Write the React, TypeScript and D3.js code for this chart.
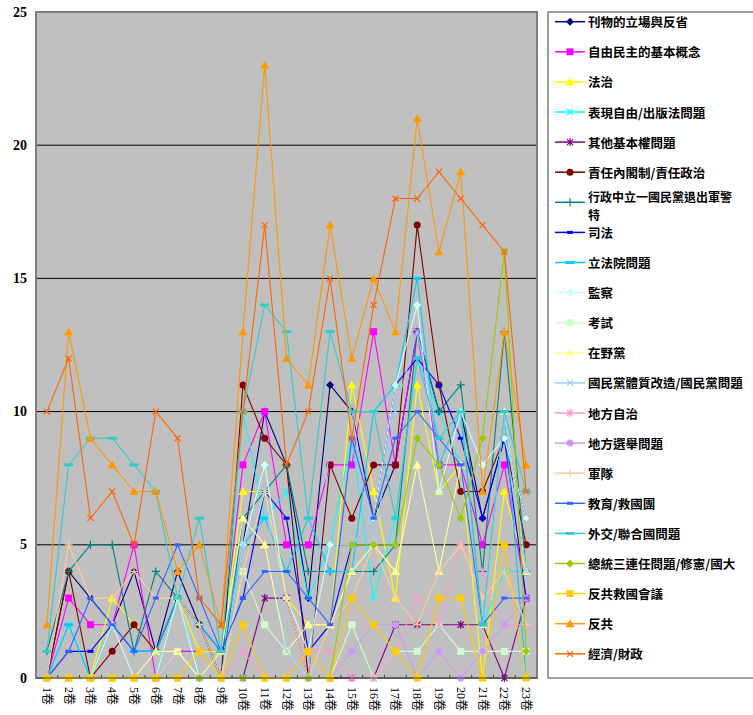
import * as d3 from 'd3'

const categories = [
  '1卷', '2卷', '3卷', '4卷', '5卷', '6卷', '7卷', '8卷', '9卷', '10卷', '11卷', '12卷',
  '13卷', '14卷', '15卷', '16卷', '17卷', '18卷', '19卷', '20卷', '21卷', '22卷', '23卷',
]
const yTicks = [0, 5, 10, 15, 20, 25]

// one array per topic, one value per volume
const kanwu = [0, 4, 3, 2, 4, 1, 4, 2, 0, 5, 10, 8, 3, 11, 10, 6, 8, 13, 10, 10, 6, 9, 6]
const ziyouMinzhu = [0, 3, 2, 2, 5, 0, 1, 1, 1, 8, 10, 5, 5, 8, 8, 13, 8, 13, 8, 8, 5, 8, 3]
const fazhi = [0, 0, 0, 3, 2, 1, 3, 1, 1, 7, 7, 3, 2, 2, 11, 7, 3, 11, 7, 8, 0, 7, 4]
const biaoxian = [0, 2, 0, 0, 0, 0, 3, 0, 0, 10, 6, 7, 3, 5, 9, 3, 6, 12, 10, 8, 2, 4, 4]
const qitaQuan = [0, 0, 0, 0, 0, 0, 0, 0, 0, 0, 3, 3, 0, 0, 0, 0, 2, 2, 2, 2, 2, 0, 3]
const zerenNeige = [0, 4, 0, 1, 2, 1, 3, 2, 0, 11, 9, 8, 0, 8, 6, 8, 8, 17, 11, 7, 7, 9, 5]
const xingzheng = [1, 4, 5, 5, 1, 4, 3, 2, 0, 6, 7, 8, 4, 4, 4, 4, 5, 13, 10, 11, 4, 13, 4]
const sifa = [0, 1, 1, 2, 1, 1, 3, 2, 1, 3, 7, 6, 1, 2, 5, 6, 11, 12, 11, 9, 6, 9, 3]
const lifayuan = [0, 2, 0, 2, 1, 1, 3, 2, 1, 5, 6, 4, 6, 4, 4, 10, 11, 15, 8, 10, 2, 10, 0]
const jiancha = [0, 0, 0, 2, 0, 0, 3, 0, 0, 5, 8, 3, 1, 5, 5, 6, 11, 14, 7, 10, 8, 9, 6]
const kaoshi = [0, 0, 0, 0, 0, 0, 1, 0, 0, 4, 2, 1, 0, 0, 2, 0, 1, 1, 2, 1, 1, 1, 1]
const zaiyedang = [0, 0, 0, 0, 0, 1, 1, 0, 1, 6, 5, 1, 2, 2, 4, 5, 4, 8, 4, 8, 2, 10, 4]
const guomindang = [0, 0, 0, 0, 0, 0, 0, 0, 0, 5, 7, 1, 0, 9, 10, 5, 10, 13, 9, 8, 2, 10, 4]
const difangZizhi = [0, 0, 0, 0, 0, 0, 0, 0, 0, 1, 0, 0, 1, 1, 0, 0, 1, 3, 2, 5, 4, 2, 2]
const difangXuanju = [0, 0, 0, 0, 0, 0, 0, 0, 0, 0, 0, 0, 0, 0, 1, 2, 2, 0, 1, 0, 1, 2, 3]
const jundui = [0, 5, 3, 3, 4, 3, 3, 2, 0, 4, 7, 3, 0, 2, 3, 5, 3, 2, 4, 5, 3, 4, 2]
const jiaoyu = [0, 1, 3, 2, 1, 3, 5, 3, 1, 3, 4, 4, 3, 2, 9, 6, 9, 10, 9, 8, 2, 3, 3]
const waijiao = [1, 8, 9, 9, 8, 7, 3, 6, 1, 10, 14, 13, 6, 13, 10, 10, 6, 12, 9, 10, 2, 10, 7]
const zongtong = [0, 0, 0, 0, 0, 0, 0, 0, 0, 0, 0, 0, 0, 0, 5, 5, 5, 9, 8, 6, 9, 16, 1]
const fangongHuiyi = [0, 0, 0, 0, 0, 0, 0, 1, 0, 2, 0, 0, 1, 0, 3, 2, 1, 0, 3, 3, 0, 5, 0]
const fangong = [2, 13, 9, 8, 7, 7, 4, 5, 2, 13, 23, 12, 11, 17, 12, 15, 13, 21, 16, 19, 7, 13, 8]
const jingji = [10, 12, 6, 7, 5, 10, 9, 3, 2, 10, 17, 8, 10, 15, 9, 14, 18, 18, 19, 18, 17, 16, 7]

type Kind = 'diamond' | 'square' | 'triangle' | 'x' | 'star' | 'circle' | 'plus' | 'dash' | 'longdash'

const series: { name: string; values: number[]; color: string; kind: Kind }[] = [
  { name: '刊物的立場與反省', values: kanwu, color: '#000080', kind: 'diamond' },
  { name: '自由民主的基本概念', values: ziyouMinzhu, color: '#FF00FF', kind: 'square' },
  { name: '法治', values: fazhi, color: '#FFFF00', kind: 'triangle' },
  { name: '表現自由/出版法問題', values: biaoxian, color: '#00FFFF', kind: 'x' },
  { name: '其他基本權問題', values: qitaQuan, color: '#800080', kind: 'star' },
  { name: '責任內閣制/責任政治', values: zerenNeige, color: '#800000', kind: 'circle' },
  { name: '行政中立一國民黨退出軍警特', values: xingzheng, color: '#008080', kind: 'plus' },
  { name: '司法', values: sifa, color: '#0000FF', kind: 'dash' },
  { name: '立法院問題', values: lifayuan, color: '#00CCFF', kind: 'longdash' },
  { name: '監察', values: jiancha, color: '#CCFFFF', kind: 'diamond' },
  { name: '考試', values: kaoshi, color: '#CCFFCC', kind: 'square' },
  { name: '在野黨', values: zaiyedang, color: '#FFFF99', kind: 'triangle' },
  { name: '國民黨體質改造/國民黨問題', values: guomindang, color: '#99CCFF', kind: 'x' },
  { name: '地方自治', values: difangZizhi, color: '#FF99CC', kind: 'star' },
  { name: '地方選舉問題', values: difangXuanju, color: '#CC99FF', kind: 'circle' },
  { name: '軍隊', values: jundui, color: '#FFCC99', kind: 'plus' },
  { name: '教育/救國團', values: jiaoyu, color: '#3366FF', kind: 'dash' },
  { name: '外交/聯合國問題', values: waijiao, color: '#33CCCC', kind: 'longdash' },
  { name: '總統三連任問題/修憲/國大', values: zongtong, color: '#99CC00', kind: 'diamond' },
  { name: '反共救國會議', values: fangongHuiyi, color: '#FFCC00', kind: 'square' },
  { name: '反共', values: fangong, color: '#FF9900', kind: 'triangle' },
  { name: '經濟/財政', values: jingji, color: '#FF6600', kind: 'x' },
]

const W = 753
const H = 715
const plot = { left: 36, right: 537, top: 12, bottom: 678 }
const legend = { left: 548, top: 12, bottom: 678, firstY: 21.7, step: 30.1 }

const x = d3.scaleBand<string>().domain(categories).range([plot.left, plot.right])
const y = d3.scaleLinear().domain([0, 25]).range([plot.bottom, plot.top])
const cx = (c: string) => (x(c) ?? 0) + x.bandwidth() / 2

const line = d3.line<number>()
  .x((_, i) => cx(categories[i]))
  .y(d => y(d))

function Marker({ kind, color, px, py }: { kind: Kind; color: string; px: number; py: number }) {
  switch (kind) {
    case 'diamond':
      return <path d={`M${px},${py - 4}L${px + 4},${py}L${px},${py + 4}L${px - 4},${py}Z`} fill={color} />
    case 'square':
      return <rect x={px - 3.5} y={py - 3.5} width={7} height={7} fill={color} />
    case 'triangle':
      return <path d={`M${px},${py - 4.5}L${px + 4.5},${py + 3.5}L${px - 4.5},${py + 3.5}Z`} fill={color} />
    case 'x':
      return <path d={`M${px - 3},${py - 3}L${px + 3},${py + 3}M${px - 3},${py + 3}L${px + 3},${py - 3}`} stroke={color} strokeWidth={1.2} />
    case 'star':
      return <path d={`M${px - 3},${py - 3}L${px + 3},${py + 3}M${px - 3},${py + 3}L${px + 3},${py - 3}M${px},${py - 4}L${px},${py + 4}`} stroke={color} strokeWidth={1.2} />
    case 'circle':
      return <circle cx={px} cy={py} r={3.5} fill={color} />
    case 'plus':
      return <path d={`M${px - 4},${py}L${px + 4},${py}M${px},${py - 4}L${px},${py + 4}`} stroke={color} strokeWidth={1.2} />
    case 'dash':
      return <rect x={px - 3} y={py - 1.5} width={6} height={3} fill={color} />
    case 'longdash':
      return <rect x={px - 4.5} y={py - 1.5} width={9} height={3} fill={color} />
  }
}

export default function App() {
  const serif = '"Liberation Serif", "Times New Roman", serif'
  const cjk = '"Noto Sans CJK TC", "Noto Sans CJK SC", sans-serif'
  const boundaries = categories.map(c => x(c) ?? 0).slice(1)

  return (
    <svg width={W} height={H} style={{ position: 'absolute', left: 0, top: 0, background: '#fff' }}>
      <rect x={plot.left} y={plot.top} width={plot.right - plot.left} height={plot.bottom - plot.top} fill="#C0C0C0" />
      {yTicks.slice(1, -1).map(t => (
        <line key={t} x1={plot.left} x2={plot.right} y1={y(t)} y2={y(t)} stroke="#000" strokeWidth={1} />
      ))}
      <rect x={plot.left} y={plot.top} width={plot.right - plot.left} height={plot.bottom - plot.top}
        fill="none" stroke="#808080" strokeWidth={2} />

      {series.map(s => (
        <g key={s.name}>
          <path d={line(s.values) ?? ''} fill="none" stroke={s.color} strokeWidth={1.1} />
          {s.values.map((v, i) => (
            <Marker key={i} kind={s.kind} color={s.color} px={cx(categories[i])} py={y(v)} />
          ))}
        </g>
      ))}

      <line x1={plot.left} x2={plot.right} y1={plot.bottom} y2={plot.bottom} stroke="#404040" strokeWidth={1} />
      {boundaries.map((b, i) => (
        <line key={i} x1={b} x2={b} y1={plot.bottom} y2={plot.bottom - 3} stroke="#404040" />
      ))}

      {yTicks.map(t => (
        <text key={t} x={27} y={y(t)} textAnchor="end" dominantBaseline="central"
          fontFamily={serif} fontWeight="bold" fontSize={14}>{t}</text>
      ))}
      {categories.map(c => (
        <text key={c} transform={`translate(${cx(c)},${plot.bottom + 9}) rotate(90)`}
          textAnchor="start" dominantBaseline="central" fontFamily={`"Liberation Serif", ${cjk}`} fontSize={12}>
          {c}
        </text>
      ))}

      <rect x={legend.left} y={legend.top} width={W} height={legend.bottom - legend.top}
        fill="#fff" stroke="#404040" strokeWidth={1} />
      {series.map((s, k) => {
        const ly = legend.firstY + legend.step * k
        const wrap = s.name === '行政中立一國民黨退出軍警特'
        return (
          <g key={s.name}>
            <line x1={555} x2={585} y1={ly} y2={ly} stroke={s.color} strokeWidth={1.5} />
            <Marker kind={s.kind} color={s.color} px={570} py={ly} />
            {wrap ? (
              <g>
                <text x={588} y={ly - 5.8} dominantBaseline="central" fontFamily={cjk} fontWeight="bold" fontSize={12}>
                  行政中立一國民黨退出軍警
                </text>
                <text x={588} y={ly + 11.9} dominantBaseline="central" fontFamily={cjk} fontWeight="bold" fontSize={12}>
                  特
                </text>
              </g>
            ) : (
              <text x={588} y={ly} dominantBaseline="central" fontFamily={cjk} fontWeight="bold" fontSize={12.5}>
                {s.name}
              </text>
            )}
          </g>
        )
      })}
    </svg>
  )
}
